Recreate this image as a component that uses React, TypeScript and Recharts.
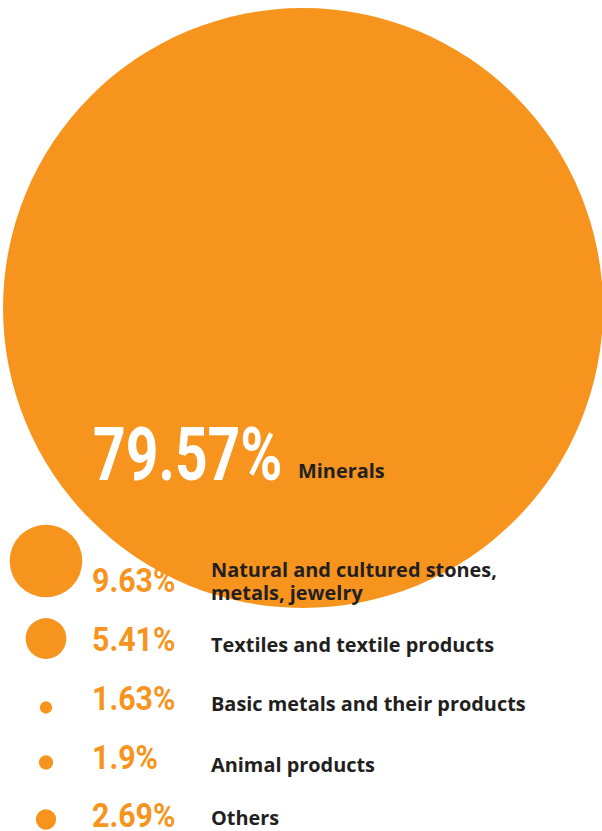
import { Scatter, ScatterChart, XAxis, YAxis, ZAxis } from "recharts";

// ---- data ----
const categories = [
  "Minerals",
  "Natural and cultured stones,\nmetals, jewelry",
  "Textiles and textile products",
  "Basic metals and their products",
  "Animal products",
  "Others",
];
const shares = [79.57, 9.63, 5.41, 1.63, 1.9, 2.69];
const shareLabels = ["79.57%", "9.63%", "5.41%", "1.63%", "1.9%", "2.69%"];

// ---- layout (axis units = canvas px) ----
const WIDTH = 602;
const HEIGHT = 831;
const bubbleX = [303, 46, 46, 46, 46, 46];
const bubbleY = [308, 561, 638.5, 707.5, 762.5, 819.5];
const pctX = [93, 92, 92, 92, 92, 92];
const pctBaseline = [480, 592, 651, 710, 769, 827];
const nameX = [298, 211, 211, 211, 211, 211];
const nameBaseline = [478, 577, 652, 711, 772, 825];

const ORANGE = "#F7941E";
const INK = "#231F20";

const bubbles = categories.map((name, i) => ({
  name,
  share: shares[i],
  x: bubbleX[i],
  y: bubbleY[i],
}));
const pctPoints = shareLabels.map((label, i) => ({
  label,
  big: i === 0,
  x: pctX[i],
  y: pctBaseline[i],
}));
const namePoints = categories.map((name, i) => ({
  name,
  x: nameX[i],
  y: nameBaseline[i],
}));

// radius comes straight from the z-axis scale (linear in share)
const Bubble = (p: any) => (
  <circle cx={p.cx} cy={p.cy} r={Math.max(p.size ?? 0, 0)} fill={ORANGE} />
);

const PctLabel = (p: any) => {
  const big = p.payload?.big;
  const sx = big ? 0.765 : 0.92;
  return (
    <text
      transform={`translate(${p.cx},${p.cy}) scale(${sx},1)`}
      x={0}
      y={0}
      fontFamily="Roboto, 'Liberation Sans', sans-serif"
      fontWeight={700}
      fontSize={big ? 74.5 : 33}
      fill={big ? "#FFFFFF" : ORANGE}
    >
      {p.payload?.label}
    </text>
  );
};

const NameLabel = (p: any) => {
  const lines: string[] = String(p.payload?.name ?? "").split("\n");
  return (
    <text
      x={p.cx}
      y={p.cy}
      fontFamily="'Open Sans', 'Noto Sans', sans-serif"
      fontWeight={700}
      fontSize={19.9}
      fill={INK}
    >
      {lines.map((line, i) => (
        <tspan key={i} x={p.cx} dy={i === 0 ? 0 : 23}>
          {line}
        </tspan>
      ))}
    </text>
  );
};

export default function App() {
  return (
    <div style={{ width: WIDTH, height: HEIGHT, background: "#fff" }}>
      <style>{"body{margin:0}"}</style>
      <ScatterChart
        width={WIDTH}
        height={HEIGHT}
        margin={{ top: 0, right: 0, bottom: 0, left: 0 }}
      >
        <XAxis type="number" dataKey="x" domain={[0, WIDTH]} hide />
        <YAxis type="number" dataKey="y" domain={[0, HEIGHT]} reversed hide />
        <ZAxis type="number" dataKey="share" domain={[0, 100]} range={[0, 377]} />
        <Scatter data={bubbles} shape={Bubble} isAnimationActive={false} />
        <Scatter data={pctPoints} shape={PctLabel} isAnimationActive={false} />
        <Scatter data={namePoints} shape={NameLabel} isAnimationActive={false} />
      </ScatterChart>
    </div>
  );
}
